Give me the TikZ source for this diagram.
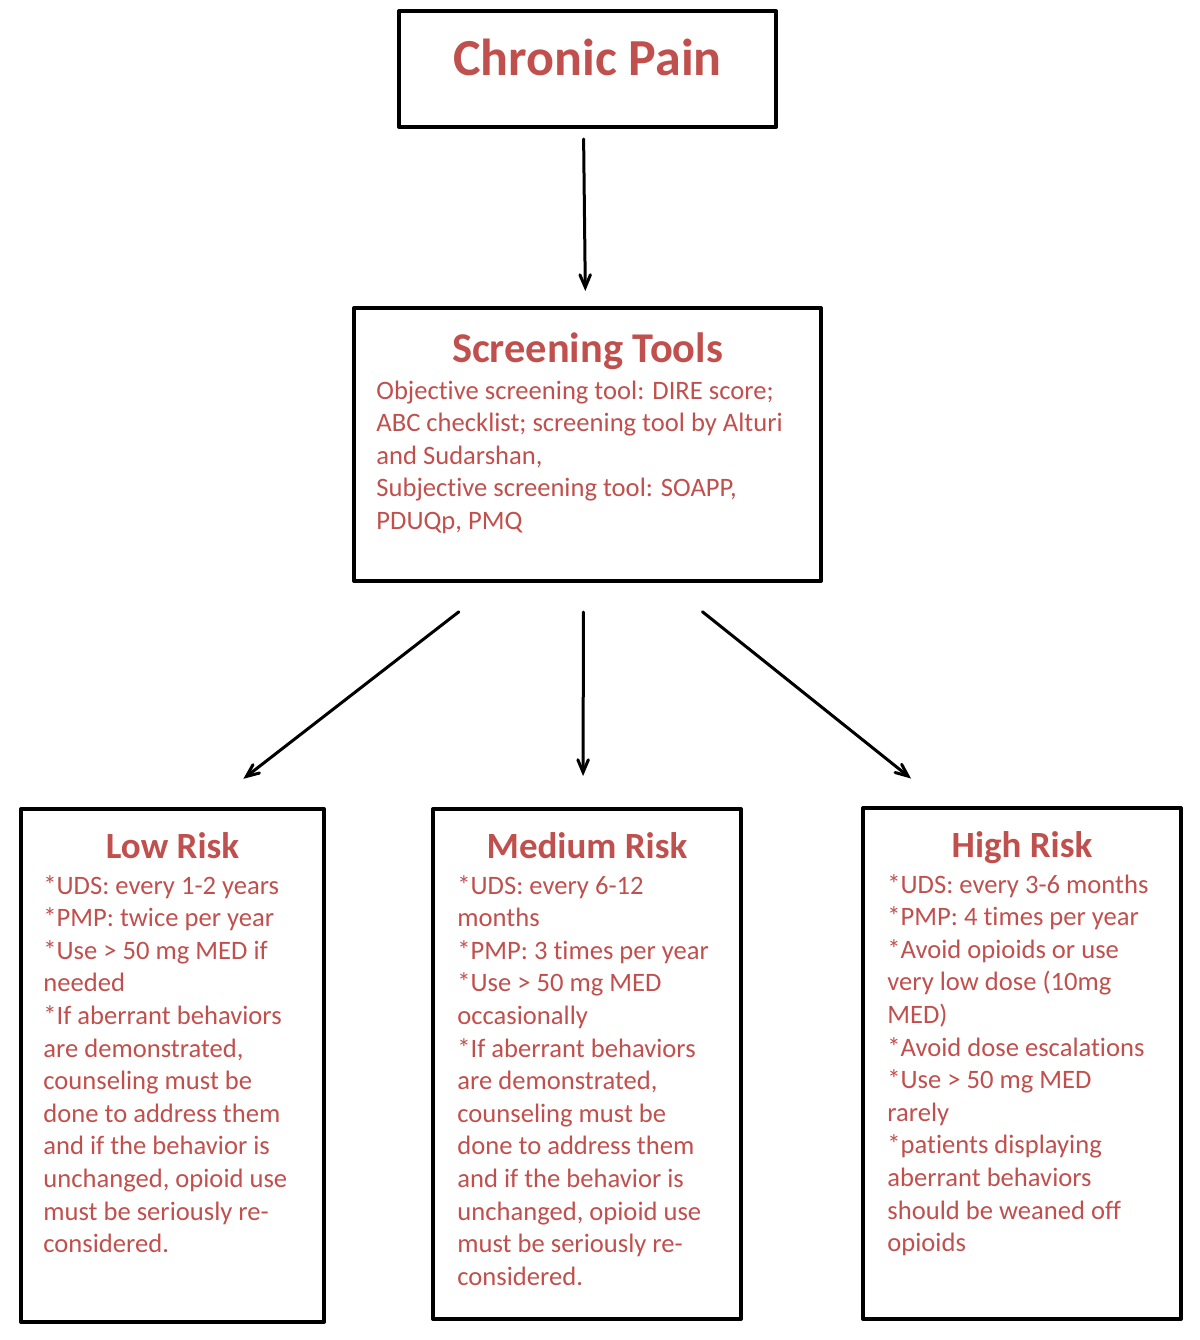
\documentclass[tikz,border=0pt]{standalone}
\usepackage{fontspec}
\setmainfont{Carlito}[Ligatures={NoCommon,NoContextual}]
\usepackage{xcolor}
\usepackage{tikz}
\usetikzlibrary{arrows}
\definecolor{painred}{HTML}{C0504D}
\newcommand{\riskstrut}{\rule{0pt}{0.8em}}
\tikzset{
  blackbox/.style={draw=black,line width=2pt,inner sep=0pt},
  headtext/.style={text=painred,anchor=base,inner sep=0pt},
  bodytext/.style={text=painred,font=\fontsize{13.3}{16.3}\selectfont,align=left,anchor=north west,inner sep=0pt},
  flow/.style={->,line width=1.5pt}
}

\begin{document}
\begin{tikzpicture}[line cap=round,line join=round,>=angle 45,x=0.5pt,y=0.5pt]
\useasboundingbox (0,0) rectangle (1200,-1340);
% boxes
\node[blackbox,minimum width=188.5pt,minimum height=58pt] (pain) at (587.5,-69) {};
\node[blackbox,minimum width=233.5pt,minimum height=136.5pt] (screen) at (587.5,-444.5) {};
\node[blackbox,minimum width=151.5pt,minimum height=256.5pt] (low) at (172.5,-1065.5) {};
\node[blackbox,minimum width=154pt,minimum height=255pt] (medium) at (587,-1064) {};
\node[blackbox,minimum width=159pt,minimum height=255.5pt] (high) at (1022,-1063.5) {};
% titles
\node[headtext,font=\fontsize{26}{30}\bfseries\selectfont] (painhead) at (587.5,-75) {Chronic Pain};
\node[headtext,font=\fontsize{21.2}{25}\bfseries\selectfont] (screenhead) at (587.5,-362) {Screening Tools};
\node[headtext,font=\fontsize{18.5}{22}\bfseries\selectfont] (lowhead) at (172.5,-858) {Low Risk};
\node[headtext,font=\fontsize{18.5}{22}\bfseries\selectfont] (mediumhead) at (587,-858) {Medium Risk};
\node[headtext,font=\fontsize{18.5}{22}\bfseries\selectfont] (highhead) at (1022,-857) {High Risk};
% texts
\node[bodytext] (screenbody) at (376,-377.5) {\riskstrut Objective screening tool: DIRE score;\\
ABC checklist; screening tool by Alturi\\
and Sudarshan,\\
Subjective screening tool: SOAPP,\\
PDUQp, PMQ};
\node[bodytext] (lowbody) at (43,-872.5) {\riskstrut *UDS: every 1-2 years\\
*PMP: twice per year\\
*Use > 50 mg MED if\\
needed\\
*If aberrant behaviors\\
are demonstrated,\\
counseling must be\\
done to address them\\
and if the behavior is\\
unchanged, opioid use\\
must be seriously re-\\
considered.};
\node[bodytext] (mediumbody) at (457,-872.5) {\riskstrut *UDS: every 6-12\\
months\\
*PMP: 3 times per year\\
*Use > 50 mg MED\\
occasionally\\
*If aberrant behaviors\\
are demonstrated,\\
counseling must be\\
done to address them\\
and if the behavior is\\
unchanged, opioid use\\
must be seriously re-\\
considered.};
\node[bodytext] (highbody) at (887,-871.5) {\riskstrut *UDS: every 3-6 months\\
*PMP: 4 times per year\\
*Avoid opioids or use\\
very low dose (10mg\\
MED)\\
*Avoid dose escalations\\
*Use > 50 mg MED\\
rarely\\
*patients displaying\\
aberrant behaviors\\
should be weaned off\\
opioids};
% arrows
\draw[flow,shorten <=5pt,shorten >=7.5pt] ([xshift=-2pt]pain.south) -- ([xshift=-1pt]screen.north);
\draw[flow,shorten <=23.5pt,shorten >=23pt] ([xshift=-45.75pt]screen.south) -- ([xshift=17.25pt]low.north);
\draw[flow,shorten <=14.5pt,shorten >=15.5pt] ([xshift=-2pt]screen.south) -- ([xshift=-2pt]medium.north);
\draw[flow,shorten <=23pt,shorten >=22pt] ([xshift=39.5pt]screen.south) -- ([xshift=-38.3pt]high.north);
\end{tikzpicture}
\end{document}
